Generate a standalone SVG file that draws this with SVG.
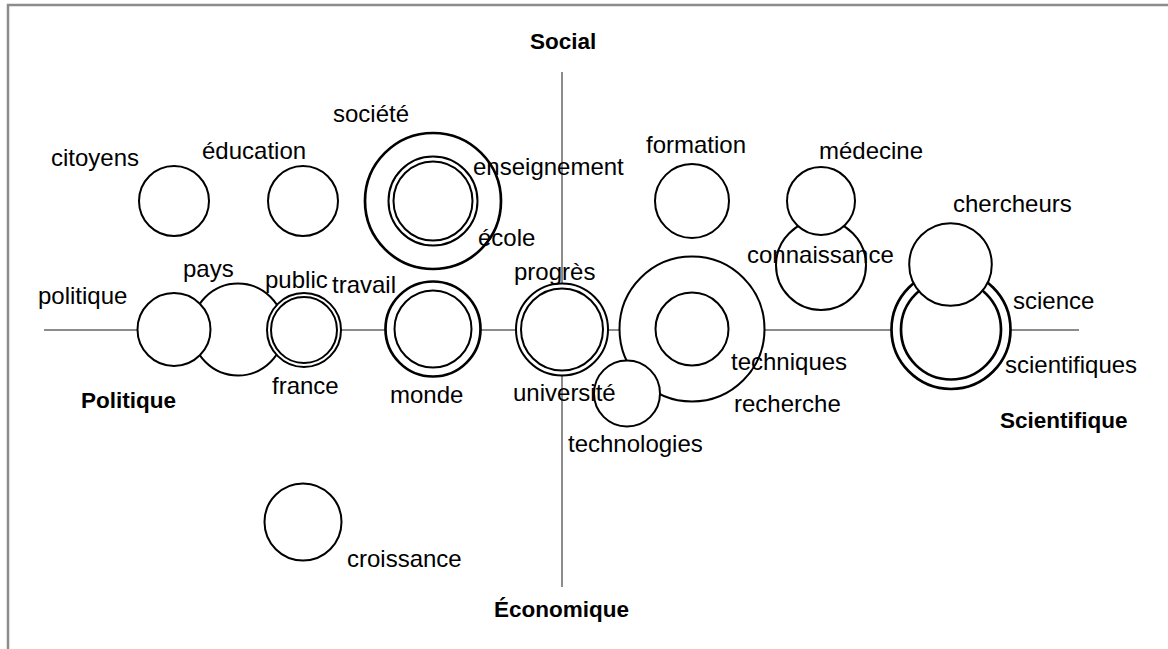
<svg xmlns="http://www.w3.org/2000/svg" width="1168" height="649" viewBox="0 0 1168 649">
  <style>
    .c { fill: #ffffff; stroke: #000000; stroke-width: 2; }
    .k { stroke-width: 2.7; }
    .t { font-family: "Liberation Sans", Arial, sans-serif; font-size: 24px; fill: #000000; }
    .b { font-family: "Liberation Sans", Arial, sans-serif; font-size: 22.5px; font-weight: bold; fill: #000000; }
    .ax { stroke: #8c8c8c; stroke-width: 2; fill: none; }
    .fr { stroke: #8c8c8c; stroke-width: 2.5; fill: none; }
  </style>
  <rect width="1168" height="649" fill="#ffffff"/>
  <g id="frame">
    <path class="fr" d="M 8 649 L 8 5 L 1168 5"/>
  </g>
  <g id="connectors">
    <line class="ax" x1="44" y1="330" x2="1079" y2="330"/>
    <line class="ax" x1="562" y1="72" x2="562" y2="587"/>
  </g>
  <g id="axis-labels">
    <text class="b" x="530" y="49">Social</text>
    <text class="b" x="81" y="408">Politique</text>
    <text class="b" x="494" y="617">Économique</text>
    <text class="b" x="1000" y="428">Scientifique</text>
  </g>
  <g id="node-citoyens">
    <circle class="c" cx="174" cy="201" r="35"/>
    <text class="t" x="51" y="166">citoyens</text>
  </g>
  <g id="node-education">
    <circle class="c" cx="303" cy="201" r="35"/>
    <text class="t" x="202" y="159">éducation</text>
  </g>
  <g id="node-societe">
    <circle class="c k" cx="433" cy="201" r="68"/>
    <text class="t" x="333" y="122">société</text>
  </g>
  <g id="node-enseignement-ecole">
    <circle class="c" cx="433" cy="201" r="44.5"/>
    <circle class="c" cx="433" cy="201" r="39.5"/>
    <text class="t" x="473" y="175">enseignement</text>
    <text class="t" x="478" y="246">école</text>
  </g>
  <g id="node-formation">
    <circle class="c" cx="692" cy="201" r="37"/>
    <text class="t" x="646" y="153">formation</text>
  </g>
  <g id="node-connaissance">
    <circle class="c" cx="821" cy="265" r="45"/>
    <text class="t" x="747" y="263">connaissance</text>
  </g>
  <g id="node-medecine">
    <circle class="c" cx="821" cy="201" r="34"/>
    <text class="t" x="819" y="159">médecine</text>
  </g>
  <g id="node-pays">
    <circle class="c" cx="238" cy="329.5" r="46"/>
    <text class="t" x="183" y="277">pays</text>
  </g>
  <g id="node-politique">
    <circle class="c" cx="174" cy="329.5" r="36.5"/>
    <text class="t" x="38" y="304">politique</text>
  </g>
  <g id="node-public-france">
    <circle class="c" cx="304" cy="330" r="37"/>
    <circle class="c" cx="304" cy="330" r="33"/>
    <text class="t" x="265" y="288">public</text>
    <text class="t" x="272" y="394">france</text>
  </g>
  <g id="node-travail-monde">
    <circle class="c k" cx="433" cy="329" r="47.5"/>
    <circle class="c" cx="433" cy="329" r="38.5"/>
    <text class="t" x="332" y="293">travail</text>
    <text class="t" x="390" y="403">monde</text>
  </g>
  <g id="node-recherche-techniques">
    <circle class="c" cx="692" cy="329" r="72.5"/>
    <circle class="c" cx="692" cy="329" r="36.5"/>
    <text class="t" x="731" y="370">techniques</text>
    <text class="t" x="734" y="412">recherche</text>
  </g>
  <g id="node-technologies">
    <circle class="c" cx="627" cy="393.5" r="33"/>
    <text class="t" x="568" y="452">technologies</text>
  </g>
  <g id="node-progres-universite">
    <circle class="c" cx="562" cy="329.5" r="46"/>
    <circle class="c" cx="562" cy="329.5" r="41"/>
    <text class="t" x="514" y="280">progrès</text>
    <text class="t" x="513" y="401">université</text>
  </g>
  <g id="node-science-scientifiques">
    <circle class="c k" cx="951" cy="329.5" r="59.5"/>
    <circle class="c k" cx="951" cy="329.5" r="50"/>
    <text class="t" x="1013" y="309">science</text>
    <text class="t" x="1005" y="373">scientifiques</text>
  </g>
  <g id="node-chercheurs">
    <circle class="c" cx="950.5" cy="264.5" r="41.3"/>
    <text class="t" x="953" y="212">chercheurs</text>
  </g>
  <g id="node-croissance">
    <circle class="c" cx="303" cy="522" r="38.5"/>
    <text class="t" x="347" y="567">croissance</text>
  </g>
</svg>
